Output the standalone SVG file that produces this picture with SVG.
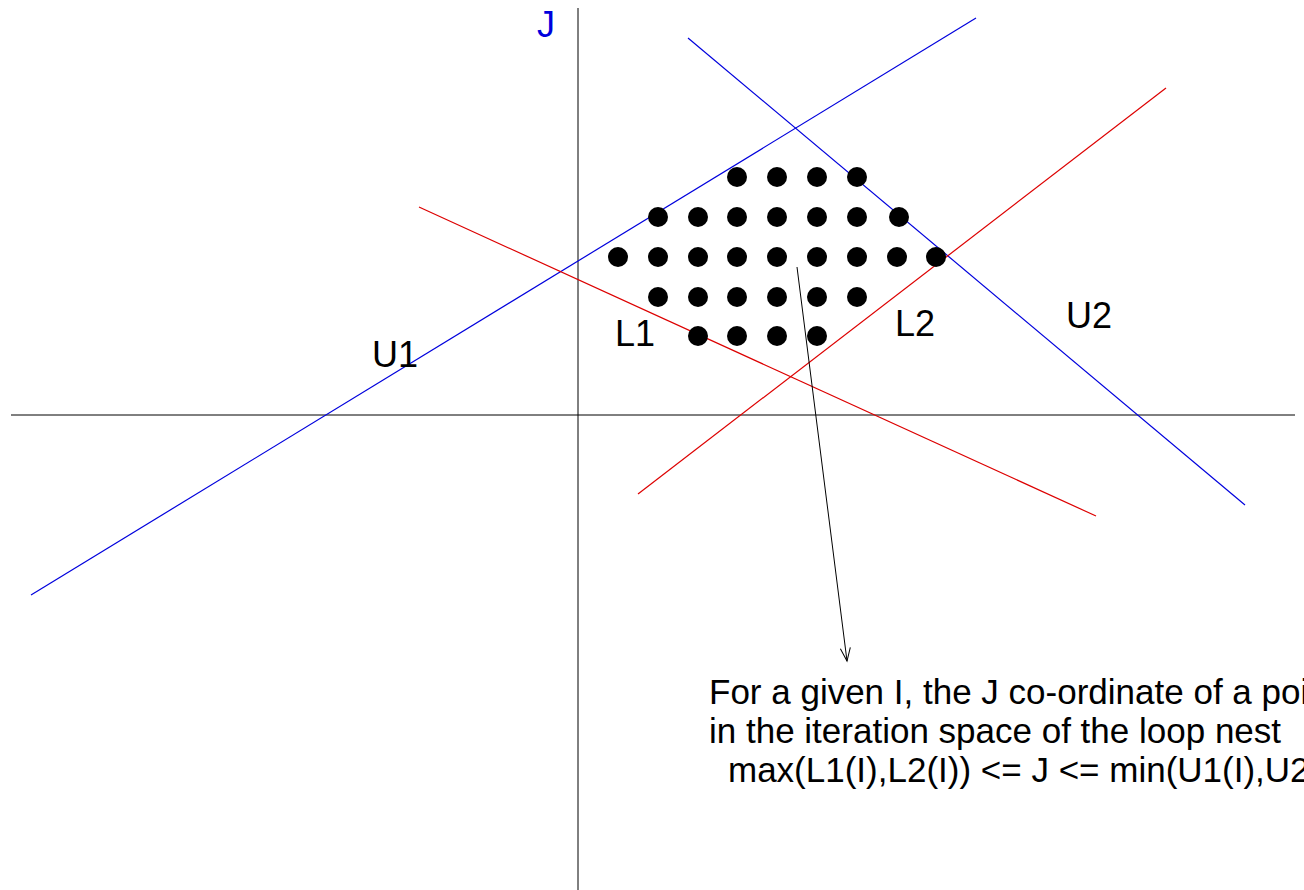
<svg xmlns="http://www.w3.org/2000/svg" width="1304" height="890" viewBox="0 0 1304 890">
<style>
.axis{stroke:#000;stroke-width:1;fill:none}
.u{stroke:#0000dd;stroke-width:1.2;fill:none}
.l{stroke:#dd0000;stroke-width:1.2;fill:none}
.dot{fill:#000}
.lbl{font-family:"Liberation Sans",Arial,sans-serif;font-size:36px;fill:#000}
.note{font-family:"Liberation Sans",Arial,sans-serif;font-size:35px;fill:#000}
</style>
<defs>
<marker id="open" markerWidth="16" markerHeight="12" refX="14" refY="6" orient="auto" markerUnits="userSpaceOnUse">
<path d="M1,1 L14,6 L1,11" fill="none" stroke="#000" stroke-width="1"/>
</marker>
</defs>
<rect width="1304" height="890" fill="#fff"/>
<g id="axes">
<line class="axis" x1="11" y1="415" x2="1295" y2="415"/>
<line class="axis" x1="578" y1="8" x2="578" y2="890"/>
</g>
<g id="connectors">
<line id="U1" class="u" x1="31" y1="595" x2="976" y2="18"/>
<line id="U2" class="u" x1="688" y1="38" x2="1245" y2="505"/>
<line id="L1" class="l" x1="419" y1="207" x2="1096" y2="516"/>
<line id="L2" class="l" x1="638" y1="494" x2="1166" y2="88"/>
<line id="pointer" x1="797" y1="267" x2="847" y2="661" stroke="#000" stroke-width="1" marker-end="url(#open)"/>
</g>
<g id="points">
<circle class="dot" cx="737" cy="177" r="10"/><circle class="dot" cx="777" cy="177" r="10"/><circle class="dot" cx="817" cy="177" r="10"/><circle class="dot" cx="857" cy="177" r="10"/>
<circle class="dot" cx="658" cy="217" r="10"/><circle class="dot" cx="698" cy="217" r="10"/><circle class="dot" cx="737" cy="217" r="10"/><circle class="dot" cx="777" cy="217" r="10"/><circle class="dot" cx="817" cy="217" r="10"/><circle class="dot" cx="857" cy="217" r="10"/><circle class="dot" cx="899" cy="217" r="10"/>
<circle class="dot" cx="618" cy="257" r="10"/><circle class="dot" cx="658" cy="257" r="10"/><circle class="dot" cx="698" cy="257" r="10"/><circle class="dot" cx="737" cy="257" r="10"/><circle class="dot" cx="777" cy="257" r="10"/><circle class="dot" cx="817" cy="257" r="10"/><circle class="dot" cx="857" cy="257" r="10"/><circle class="dot" cx="897" cy="257" r="10"/><circle class="dot" cx="936" cy="257" r="10"/>
<circle class="dot" cx="658" cy="297" r="10"/><circle class="dot" cx="698" cy="297" r="10"/><circle class="dot" cx="737" cy="297" r="10"/><circle class="dot" cx="777" cy="297" r="10"/><circle class="dot" cx="817" cy="297" r="10"/><circle class="dot" cx="857" cy="297" r="10"/>
<circle class="dot" cx="698" cy="336" r="10"/><circle class="dot" cx="737" cy="336" r="10"/><circle class="dot" cx="777" cy="336" r="10"/><circle class="dot" cx="817" cy="336" r="10"/>
</g>
<g id="labels">
<text class="lbl" x="537" y="37" style="fill:#0000dd">J</text>
<text class="lbl" x="372" y="367">U1</text>
<text class="lbl" x="615" y="346">L1</text>
<text class="lbl" x="895" y="336">L2</text>
<text class="lbl" x="1066" y="328">U2</text>
</g>
<g id="note">
<text class="note" x="709" y="704">For a given I, the J co-ordinate of a point</text>
<text class="note" x="709" y="743">in the iteration space of the loop nest</text>
<text class="note" x="728" y="782">max(L1(I),L2(I)) &lt;= J &lt;= min(U1(I),U2(I))</text>
</g>
</svg>
